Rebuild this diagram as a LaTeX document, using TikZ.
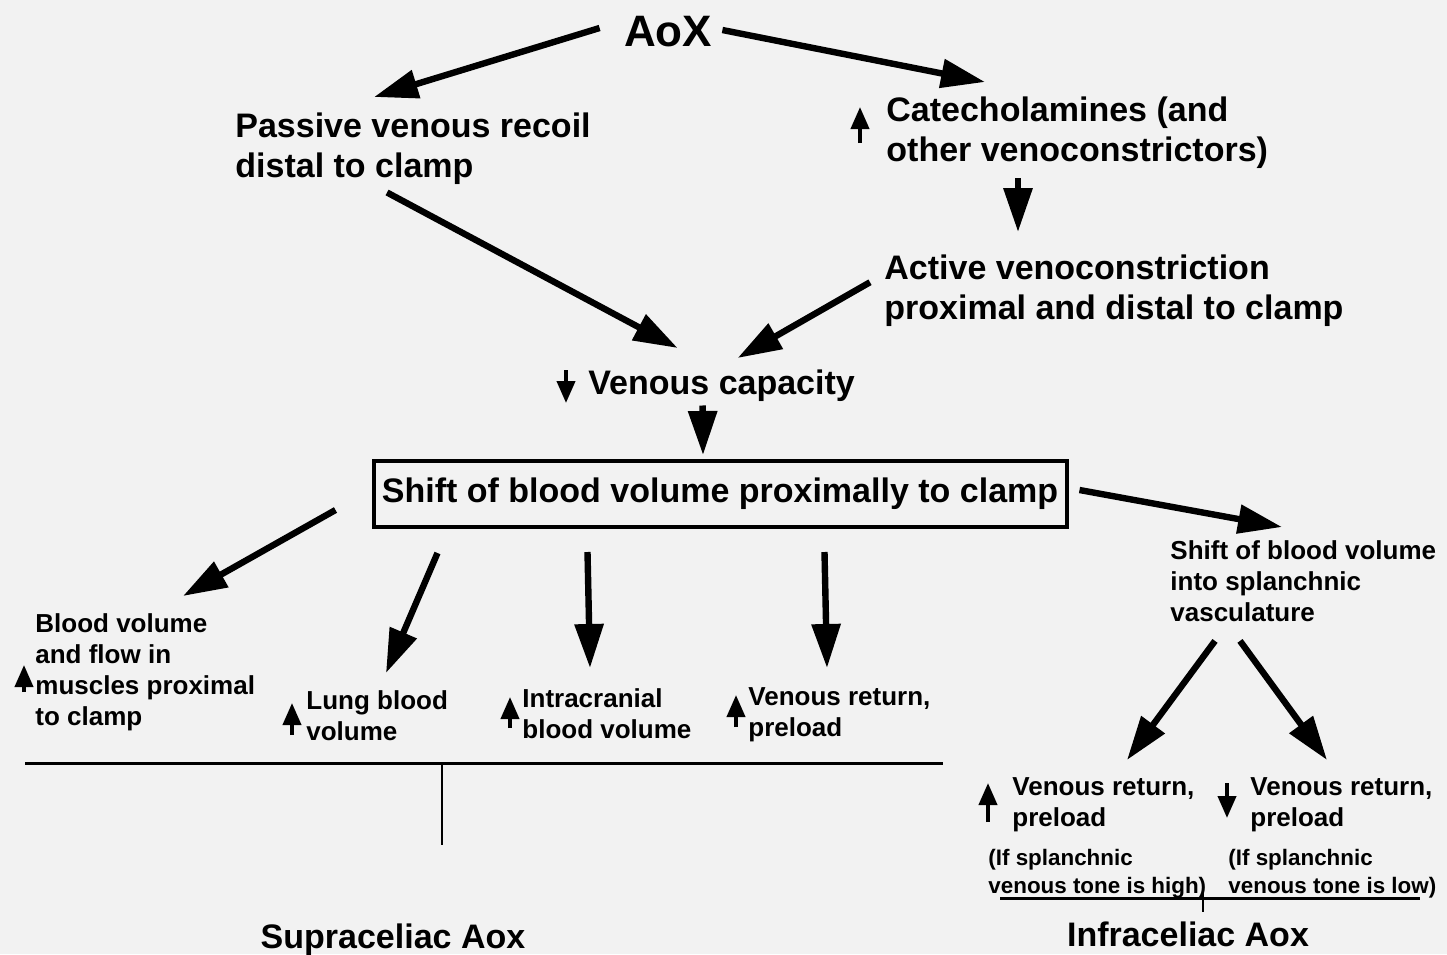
\documentclass[tikz,border=0pt]{standalone}
\usepackage{fontspec}
\setmainfont{Liberation Sans}
\usetikzlibrary{positioning,arrows.meta,calc}
\definecolor{pagegray}{HTML}{F2F2F2}

\begin{document}
\begin{tikzpicture}[
  x=0.5pt, y=-0.5pt,
  txt/.style={anchor=north west,align=left,inner sep=0pt,font=\bfseries\fontsize{17}{20}\selectfont},
  midtxt/.style={txt,font=\bfseries\fontsize{13}{15.5}\selectfont},
  smalltxt/.style={txt,font=\bfseries\fontsize{11.2}{14}\selectfont},
  title/.style={inner sep=0pt,font=\bfseries\fontsize{17}{20}\selectfont},
  boxed/.style={draw,line width=2pt,minimum width=346.5pt,minimum height=33pt,inner sep=0pt,font=\bfseries\fontsize{17}{20}\selectfont},
  flow/.style={line width=3.2pt,-{Triangle[length=22pt,width=14pt]}},
  rise/.style={line width=2pt,-{Triangle[length=11pt,width=9pt]}},
  rule/.style={line width=1.5pt}
]

\fill[pagegray] (0,0) rectangle (1447,954);
\useasboundingbox (0,0) rectangle (1447,954);

% top part
\node[title,font=\bfseries\fontsize{22}{26}\selectfont] (aox) at (668,32) {AoX};
\node[txt] (passive) at (235,112) {Passive venous recoil\\distal to clamp};
\node[txt] (catech) at (886,96) {Catecholamines (and\\other venoconstrictors)};
\node[txt] (active) at (884,254) {Active venoconstriction\\proximal and distal to clamp};
\node[txt] (capacity) at (588,369) {Venous capacity};
\node[boxed] (shift) at (720,494) {Shift of blood volume proximally to clamp};
\node[midtxt] (splanch) at (1170,540) {Shift of blood volume\\into splanchnic\\vasculature};

\draw[flow] ($(aox.west)+(-24,-4)$) -- ($(passive.north)+(-39,-15)$);
\draw[flow] ($(aox.east)+(10,-2)$) -- ($(catech.north west)+(99,-14)$);
\draw[flow] ($(catech.south west)+(132,10)$) -- ($(active.north west)+(134,-22)$);
\draw[flow] ($(passive.south)+(-26,8)$) -- ($(capacity.north)+(-44,-21)$);
\draw[flow] ($(active.west)+(-14,-8)$) -- ($(capacity.north)+(16,-11)$);
\draw[flow] ($(capacity.south)+(-19,4)$) -- ($(shift.north)+(-17,-4)$);
\draw[flow] ($(shift.east)+(11,-4)$) -- ($(splanch.north west)+(112,-13)$);

% supraceliac side
\node[midtxt] (muscle) at (35,613) {Blood volume\\and flow in\\muscles proximal\\to clamp};
\node[midtxt] (lung) at (306,690) {Lung blood\\volume};
\node[midtxt] (cranial) at (522,688) {Intracranial\\blood volume};
\node[midtxt] (venret) at (748,687) {Venous return,\\preload};

\foreach \dst/\from/\to in {muscle/{-36,-19}/{148,-17}, lung/{66,24}/{80,-17}, cranial/{216,23}/{68,-20}, venret/{453,23}/{79,-19}}
  \draw[flow] ($(shift.south west)+(\from)$) -- ($(\dst.north west)+(\to)$);

\coordinate (supraL) at (25,763);
\coordinate (supraR) at (943,763);
\coordinate (supraStem) at (442,763);
\draw[rule] (supraL) -- (supraR);
\draw[line width=1pt] (supraStem) -- ++(0,82);
\node[title] (supra) at (393,940) {Supraceliac Aox};

% infraceliac side
\node[midtxt] (rethigh) at (1012,777) {Venous return,\\preload};
\node[midtxt] (retlow) at (1250,777) {Venous return,\\preload};
\node[smalltxt] (condhigh) at (988,849) {(If splanchnic\\venous tone is high)};
\node[smalltxt] (condlow) at (1228,849) {(If splanchnic\\venous tone is low)};

\draw[flow] ($(splanch.south west)+(45,19)$) -- ($(rethigh.north west)+(115,-17)$);
\draw[flow] ($(splanch.south west)+(70,19)$) -- ($(retlow.north west)+(77,-17)$);

\coordinate (infraL) at (1000,898);
\coordinate (infraR) at (1420,898);
\coordinate (infraStem) at (1203,893);
\draw[rule] (infraL) -- (infraR);
\draw[line width=1pt] (infraStem) -- ++(0,19);
\node[title] (infra) at (1188,934) {Infraceliac Aox};

% up and down marks
\foreach \n/\dx/\dy/\len in {catech/-26/47/-36, muscle/-11/79/-27, lung/-14/45/-32, cranial/-12/40/-31, venret/-12/40/-32, rethigh/-24/45/-39}
  \draw[rise] ($(\n.north west)+(\dx,\dy)$) -- ++(0,\len);
\foreach \n/\dx/\dy/\len in {capacity/-22/1/33, retlow/-23/6/35}
  \draw[rise] ($(\n.north west)+(\dx,\dy)$) -- ++(0,\len);

\end{tikzpicture}
\end{document}
